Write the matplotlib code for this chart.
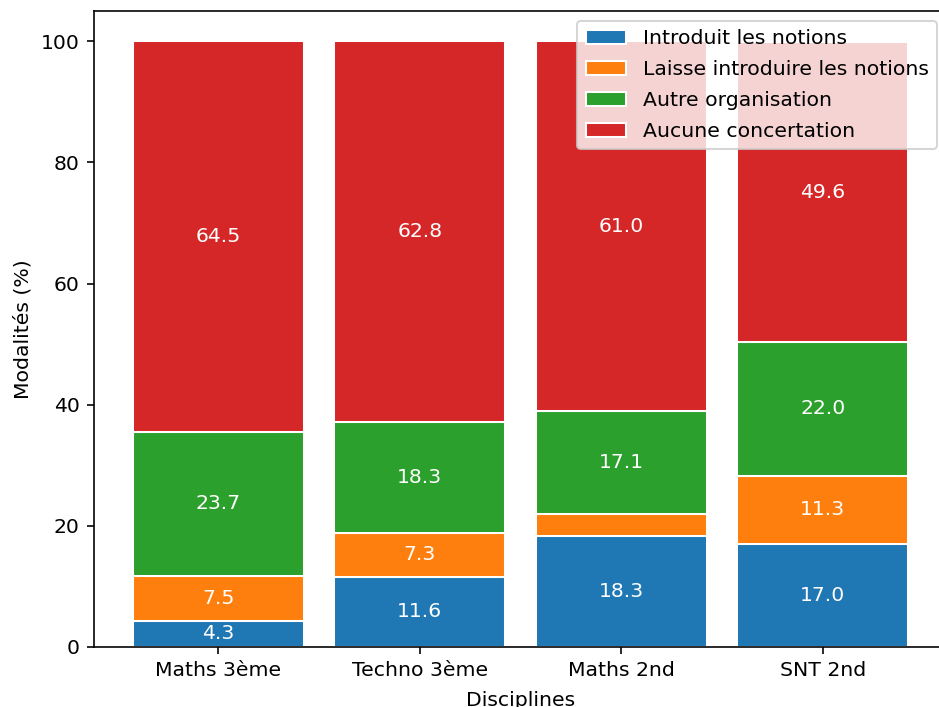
import matplotlib
matplotlib.use("Agg")
import matplotlib.pyplot as plt
import numpy as np

disciplines = ["Maths 3ème", "Techno 3ème", "Maths 2nd", "SNT 2nd"]
series_names = ["Introduit les notions", "Laisse introduire les notions",
                "Autre organisation", "Aucune concertation"]
introduit = [4.3, 11.6, 18.3, 17.0]
laisse = [7.5, 7.3, 3.6, 11.3]
autre = [23.7, 18.3, 17.1, 22.0]
aucune = [64.5, 62.8, 61.0, 49.6]
colors = ["#1f77b4", "#ff7f0e", "#2ca02c", "#d62728"]


def main():
    dpi = 147
    fig = plt.figure(figsize=(939 / dpi, 707 / dpi), dpi=dpi)
    # axes run off the right edge, like the reference crop
    ax = fig.add_axes([94 / 939, 60 / 707, 853 / 939, 636 / 707])
    ax.spines["right"].set_visible(False)

    x = np.arange(len(disciplines))
    bottom = np.zeros(len(disciplines))
    for name, vals, col in zip(series_names, [introduit, laisse, autre, aucune], colors):
        bars = ax.bar(x, vals, 0.85, bottom=bottom, label=name,
                      color=col, edgecolor="white")
        labels = [f"{v:.1f}" if v >= 4 else "" for v in vals]
        ax.bar_label(bars, labels=labels, label_type="center", color="white")
        bottom += np.array(vals)

    ax.set_xticks(x, disciplines)
    ax.set_xlabel("Disciplines", labelpad=5)
    ax.set_ylabel("Modalités (%)")
    ax.legend(loc="upper right", labelspacing=0.58)

    fig.savefig("out.png", dpi=dpi)


if __name__ == "__main__":
    main()
